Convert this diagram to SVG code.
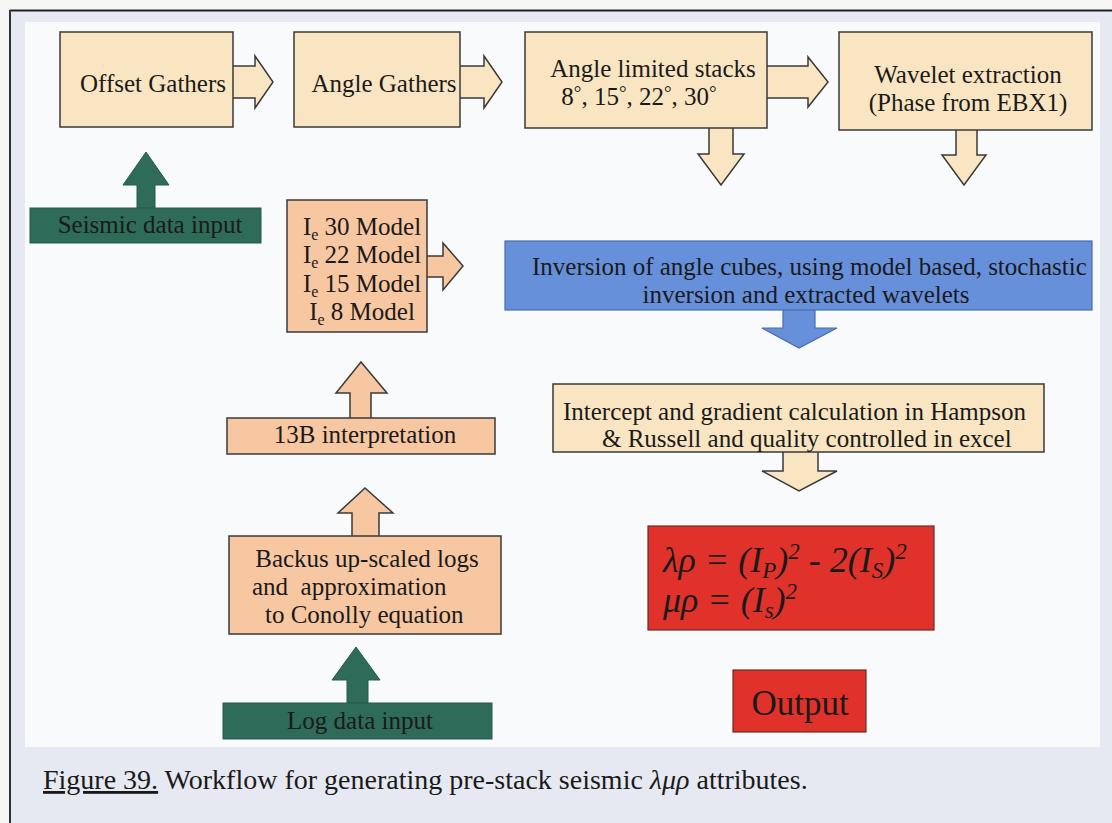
<svg xmlns="http://www.w3.org/2000/svg" width="1112" height="823" viewBox="0 0 1112 823">
  <defs>
    <style>
      text { font-family: "Liberation Serif", "Times New Roman", serif; fill: #1a1a1a; }
      .t { font-size: 25px; }
      .mid { text-anchor: middle; }
      .box { stroke: #3a3a3a; stroke-width: 1.5; }
      .cream { fill: #f9e5c1; }
      .peach { fill: #f7c7a1; }
      .green { fill: #2e6b58; stroke: #275c4c; stroke-width: 1; }
      .blue { fill: #6690da; stroke: #4a6cae; stroke-width: 1.2; }
      .red { fill: #e0322b; stroke: #6a2a26; stroke-width: 1.2; }
      .arrow { stroke: #3a3a3a; stroke-width: 1.5; stroke-linejoin: miter; }
      .fx { font-size: 36px; font-style: italic; }
      .deg { font-size: 19px; }
      .cap { font-size: 28px; }
    </style>
  </defs>

  <!-- page and frame -->
  <rect x="0" y="0" width="1112" height="823" fill="#f6f6f6"/>
  <rect x="10" y="10" width="1102" height="813" fill="#e6e9f1"/>
  <rect x="25" y="22" width="1075" height="725" fill="#f9fafc"/>
  <line x1="10" y1="10.5" x2="1112" y2="10.5" stroke="#222" stroke-width="2"/>
  <line x1="10" y1="10" x2="10" y2="823" stroke="#333" stroke-width="2"/>

  <!-- block arrows -->
  <g id="connectors">
    <path class="arrow cream" d="M233,66 H255 V56 L273,82 L255,108 V98 H233"/>
    <path class="arrow cream" d="M460,66 H484 V56 L502,82 L484,108 V98 H460"/>
    <path class="arrow cream" d="M767,66 H808 V57 L828,82 L808,107 V98 H767"/>
    <path class="arrow cream" d="M709,128 V154 H698 L721,185 L744,154 H733 V128"/>
    <path class="arrow cream" d="M956,130 V155 H942 L964,185 L986,155 H977 V130"/>
    <path class="green" d="M137,208 V185 H123 L146,152 L169,185 H155 V208 Z"/>
    <path class="arrow peach" d="M427,256 H443 V243 L463,266 L443,290 V277 H427"/>
    <path class="arrow peach" d="M350,418 V393 H336 L361,362 L387,393 H371 V418"/>
    <path class="arrow peach" d="M352,536 V513 H338 L365,488 L393,513 H379 V536"/>
    <path class="green" d="M347,703 V680 H332 L356,647 L380,680 H368 V703 Z"/>
    <path class="blue" d="M783,310 V328 H762 L799,348 L837,328 H815 V310"/>
    <path class="arrow cream" d="M783,452 V471 H762 L799,491 L837,471 H818 V452"/>
  </g>

  <g id="offset-gathers">
    <rect class="box cream" x="60" y="32" width="173" height="95"/>
    <text class="t mid" x="153" y="92">Offset Gathers</text>
  </g>

  <g id="angle-gathers">
    <rect class="box cream" x="294" y="32" width="166" height="95"/>
    <text class="t mid" x="384" y="92">Angle Gathers</text>
  </g>

  <g id="angle-stacks">
    <rect class="box cream" x="525" y="32" width="242" height="96"/>
    <text class="t mid" x="653" y="77">Angle limited stacks</text>
    <text class="t mid" x="639" y="105">8<tspan class="deg" dy="-6">°</tspan><tspan dy="6">, 15</tspan><tspan class="deg" dy="-6">°</tspan><tspan dy="6">, 22</tspan><tspan class="deg" dy="-6">°</tspan><tspan dy="6">, 30</tspan><tspan class="deg" dy="-6">°</tspan></text>
  </g>

  <g id="wavelet-extraction">
    <rect class="box cream" x="839" y="32" width="253" height="98"/>
    <text class="t mid" x="968" y="83">Wavelet extraction</text>
    <text class="t mid" x="968" y="111">(Phase from EBX1)</text>
  </g>

  <g id="seismic-input">
    <rect class="green" x="30" y="208" width="231" height="35"/>
    <text class="t mid" x="150" y="233">Seismic data input</text>
  </g>

  <g id="ie-models">
    <rect class="box peach" x="287" y="200" width="140" height="132"/>
    <text class="t mid" x="362" y="235">I<tspan dy="5" font-size="16">e</tspan><tspan dy="-5"> 30 Model</tspan></text>
    <text class="t mid" x="362" y="263">I<tspan dy="5" font-size="16">e</tspan><tspan dy="-5"> 22 Model</tspan></text>
    <text class="t mid" x="362" y="292">I<tspan dy="5" font-size="16">e</tspan><tspan dy="-5"> 15 Model</tspan></text>
    <text class="t mid" x="362" y="320">I<tspan dy="5" font-size="16">e</tspan><tspan dy="-5"> 8 Model</tspan></text>
  </g>

  <g id="inversion">
    <rect class="blue" x="505" y="241" width="587" height="69"/>
    <text class="t" x="532" y="275">Inversion of angle cubes, using model based, stochastic</text>
    <text class="t mid" x="806" y="303">inversion and extracted wavelets</text>
  </g>

  <g id="interpretation-13b">
    <rect class="box peach" x="227" y="418" width="268" height="36"/>
    <text class="t mid" x="365" y="443">13B interpretation</text>
  </g>

  <g id="intercept-gradient">
    <rect class="box cream" x="553" y="384" width="491" height="68"/>
    <text class="t" x="563" y="420">Intercept and gradient calculation in Hampson</text>
    <text class="t" x="602" y="447">&amp; Russell and quality controlled in excel</text>
  </g>

  <g id="backus-logs">
    <rect class="box peach" x="229" y="536" width="272" height="98"/>
    <text class="t mid" x="367" y="567">Backus up-scaled logs</text>
    <text class="t" x="252" y="595" xml:space="preserve">and  approximation</text>
    <text class="t" x="265" y="623">to Conolly equation</text>
  </g>

  <g id="lame-formula">
    <rect class="red" x="648" y="526" width="286" height="104"/>
    <text class="fx" x="663" y="572">λρ = (I<tspan dy="6" font-size="23">P</tspan><tspan dy="-6">)</tspan><tspan dy="-13" font-size="23">2</tspan><tspan dy="13"> - 2(I</tspan><tspan dy="6" font-size="23">S</tspan><tspan dy="-6">)</tspan><tspan dy="-13" font-size="23">2</tspan></text>
    <text class="fx" x="663" y="612">μρ = (I<tspan dy="6" font-size="23">s</tspan><tspan dy="-6">)</tspan><tspan dy="-13" font-size="23">2</tspan></text>
  </g>

  <g id="log-input">
    <rect class="green" x="223" y="703" width="269" height="36"/>
    <text class="t mid" x="360" y="729">Log data input</text>
  </g>

  <g id="output">
    <rect class="red" x="733" y="670" width="133" height="62"/>
    <text class="mid" x="800" y="715" font-size="35">Output</text>
  </g>

  <g id="caption">
    <text class="cap" x="43" y="789"><tspan text-decoration="underline">Figure 39.</tspan> Workflow for generating pre-stack seismic <tspan font-style="italic">λμρ</tspan> attributes.</text>
  </g>
</svg>
